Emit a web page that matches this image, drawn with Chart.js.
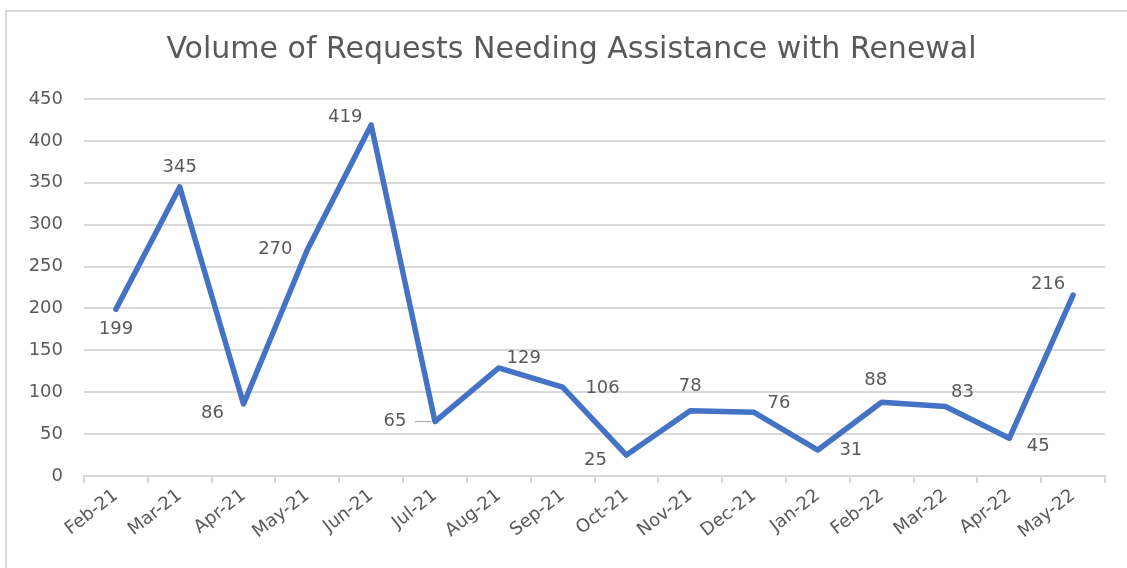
<!DOCTYPE html>
<html>
<head>
<meta charset="utf-8">
<script src="https://cdn.jsdelivr.net/npm/chart.js@4"></script>
<style>
  html, body { margin: 0; padding: 0; background: #fff; overflow: hidden; }
  #wrap { position: absolute; left: 0; top: 0; width: 1127px; height: 568px; }
  #frame { position: absolute; left: 5px; top: 10px; width: 1130px; height: 570px; border: 2px solid #d9d9d9; box-sizing: border-box; pointer-events: none; }
</style>
</head>
<body>
<div id="wrap"><canvas id="renewChart" width="1127" height="568"></canvas></div>
<div id="frame"></div>
<script>
// dados
const chartTitle = 'Volume of Requests Needing Assistance with Renewal';
const months = ['Feb-21', 'Mar-21', 'Apr-21', 'May-21', 'Jun-21', 'Jul-21', 'Aug-21', 'Sep-21',
                'Oct-21', 'Nov-21', 'Dec-21', 'Jan-22', 'Feb-22', 'Mar-22', 'Apr-22', 'May-22'];
const requests = [199, 345, 86, 270, 419, 65, 129, 106, 25, 78, 76, 31, 88, 83, 45, 216];
const yTicks = [0, 50, 100, 150, 200, 250, 300, 350, 400, 450];

// deslocamento de cada rótulo em relação ao ponto (dx, dy)
const labelOffsets = [
  [0, 20], [0, -20], [-31, 9], [-32, 0], [-26, -8], [-40, 0], [25, -10], [40, 1],
  [-31, 5], [0, -24], [25, -9], [33, 0], [-6, -22], [17, -14], [29, 8], [-25, -11]
];

const FONT = '"DejaVu Sans", Verdana, sans-serif';
const GREY = '#595959';

// título desenhado à mão para poder centrar como no original (moldura começa em x=5)
const titlePlugin = {
  id: 'centeredTitle',
  afterDraw(chart) {
    const { ctx } = chart;
    ctx.save();
    ctx.font = '30px ' + FONT;
    ctx.fillStyle = GREY;
    ctx.textAlign = 'center';
    ctx.textBaseline = 'alphabetic';
    ctx.fillText(chartTitle, chart.width / 2 + 8, 58);
    ctx.restore();
  }
};

// plugin simples para os rótulos de dados
const dataLabels = {
  id: 'dataLabels',
  afterDatasetsDraw(chart) {
    const { ctx } = chart;
    const meta = chart.getDatasetMeta(0);
    ctx.save();
    ctx.font = '18px ' + FONT;
    ctx.fillStyle = GREY;
    ctx.textAlign = 'center';
    ctx.textBaseline = 'middle';
    meta.data.forEach((pt, i) => {
      const [dx, dy] = labelOffsets[i];
      ctx.fillText(String(requests[i]), pt.x + dx, pt.y + dy);
      if (i === 5) { // linha guia do 65
        ctx.strokeStyle = '#a6a6a6';
        ctx.lineWidth = 1;
        ctx.beginPath();
        ctx.moveTo(pt.x - 20, pt.y);
        ctx.lineTo(pt.x - 4, pt.y);
        ctx.stroke();
      }
    });
    ctx.restore();
  }
};

new Chart(document.getElementById('renewChart').getContext('2d'), {
  type: 'line',
  data: {
    labels: months,
    datasets: [{
      label: 'Requests',
      data: requests,
      borderColor: '#4472C4',
      borderWidth: 5.5,
      borderJoinStyle: 'round',
      borderCapStyle: 'round',
      pointRadius: 0,
      tension: 0,
      fill: false
    }]
  },
  options: {
    responsive: false,
    animation: false,
    devicePixelRatio: 1,
    layout: { padding: { left: 0, right: 22, top: 99, bottom: 0 } },
    plugins: {
      legend: { display: false },
      tooltip: { enabled: false },
      title: { display: false }
    },
    scales: {
      x: {
        offset: true,
        grid: { offset: true, drawOnChartArea: false, drawTicks: true, tickLength: 7, color: '#d9d9d9', lineWidth: 2 },
        border: { display: true, color: '#d9d9d9', width: 2 },
        ticks: {
          color: GREY,
          font: { family: FONT, size: 18 },
          maxRotation: 38,
          minRotation: 38,
          padding: 2,
          autoSkip: false
        },
        afterFit: s => { s.height = 92; }
      },
      y: {
        min: 0,
        max: 450,
        afterBuildTicks: s => { s.ticks = yTicks.map(v => ({ value: v })); },
        grid: { drawTicks: false, color: '#d9d9d9', lineWidth: 2 },
        border: { display: false },
        ticks: {
          color: GREY,
          font: { family: FONT, size: 18 },
          padding: 21
        },
        afterFit: s => { s.width = 84; }
      }
    }
  },
  plugins: [dataLabels, titlePlugin]
});
</script>
</body>
</html>
